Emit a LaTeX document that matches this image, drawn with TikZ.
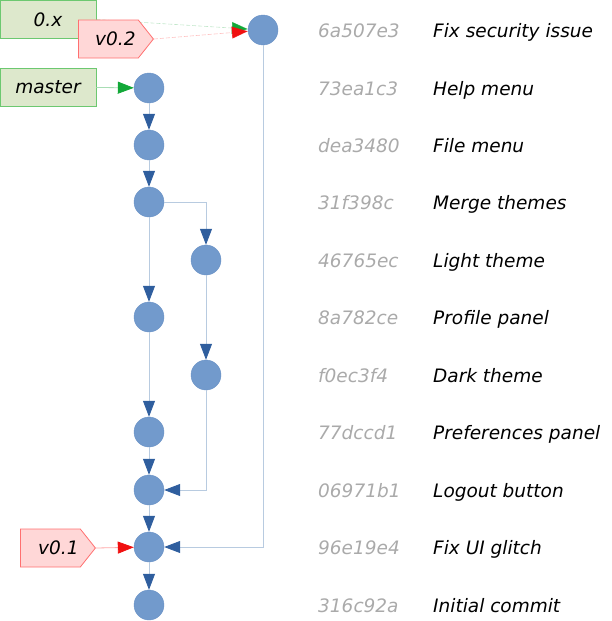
\documentclass[tikz,border=0pt]{standalone}
\usepackage{fontspec}
\setmainfont{DejaVu Sans}
\usetikzlibrary{arrows.meta,shapes.symbols}
\definecolor{commitfill}{HTML}{729ACC}
\definecolor{commitedge}{HTML}{6A92C6}
\definecolor{tipblue}{HTML}{2F5E9E}
\definecolor{linkline}{HTML}{B8CBE0}
\definecolor{hashgray}{HTML}{AAAAAA}
\definecolor{branchfill}{HTML}{DDE8CC}
\definecolor{branchedge}{HTML}{6CC870}
\definecolor{branchline}{HTML}{A8DDB4}
\definecolor{branchtip}{HTML}{12A838}
\definecolor{tagfill}{HTML}{FFD7D7}
\definecolor{tagedge}{HTML}{FF7070}
\definecolor{tagline}{HTML}{FFA8A8}
\definecolor{tagtip}{HTML}{F01010}
\begin{document}
\begin{tikzpicture}[x=1pt,y=-1pt,
  commit/.style={circle,fill=commitfill,draw=commitedge,line width=0.4pt,minimum size=30pt,inner sep=0pt},
  link/.style={draw=linkline,line width=0.8pt,-{Triangle[length=16pt,width=12pt,color=tipblue]}},
  lbl/.style={font=\itshape\fontsize{18.5}{22}\selectfont},
  hash/.style={lbl,text=hashgray,anchor=base west,inner sep=0pt},
  msg/.style={lbl,text=black,anchor=base west,inner sep=0pt},
  branch/.style={lbl,rectangle,fill=branchfill,draw=branchedge,line width=0.8pt,minimum width=96pt,minimum height=38pt,inner sep=0pt},
  tag/.style={lbl,signal,signal to=east,signal pointer angle=103,fill=tagfill,draw=tagedge,line width=0.8pt,minimum width=75pt,minimum height=38pt,inner sep=0pt},
  branchlink/.style={draw=branchline,line width=0.8pt,-{Triangle[length=16pt,width=12pt,color=branchtip]}},
  taglink/.style={draw=tagline,line width=0.8pt,-{Triangle[length=16pt,width=12pt,color=tagtip]}},
  faint/.style={dash pattern=on 4pt off 2pt,line width=0.6pt,draw opacity=0.7}]
\useasboundingbox (0,0) rectangle (612,621);

% commits
\node[commit] (sec)     at (263,30)  {};
\node[commit] (help)    at (149,88)  {};
\node[commit] (file)    at (149,145) {};
\node[commit] (merge)   at (149,202) {};
\node[commit] (light)   at (206,260) {};
\node[commit] (profile) at (149,317) {};
\node[commit] (dark)    at (206,375) {};
\node[commit] (prefs)   at (149,432) {};
\node[commit] (logout)  at (149,490) {};
\node[commit] (fixui)   at (149,547) {};
\node[commit] (init)    at (149,605) {};

% history links
\draw[link] (help) -- (file);
\draw[link] (file) -- (merge);
\draw[link] (merge) -- (profile);
\draw[link] (merge) -| (light);
\draw[link] (light) -- (dark);
\draw[link] (profile) -- (prefs);
\draw[link] (prefs) -- (logout);
\draw[link] (dark) |- (logout);
\draw[link] (logout) -- (fixui);
\draw[link] (fixui) -- (init);
\draw[link] (sec) |- (fixui);

% branches and tags
\node[branch] (zerox) at (48,19.5) {0.x};
\draw[branchlink,faint] (zerox.east) -- (sec);
\node[tag,anchor=west] (v02) at (78,39) {\hspace*{14pt}v0.2};
\draw[taglink,faint] (v02.east) -- (sec);
\node[branch] (master) at (48,87) {master};
\draw[branchlink] (master) -- (help);
\node[tag,anchor=west] (v01) at (20,548) {\hspace*{16pt}v0.1};
\draw[taglink] (v01.east) -- (fixui);

% hashes and messages
\foreach \y/\h/\m in {30/6a507e3/Fix security issue, 88/73ea1c3/Help menu, 145/dea3480/File menu,
  202/31f398c/Merge themes, 260/46765ec/Light theme, 317/8a782ce/Profile panel,
  375/f0ec3f4/Dark theme, 432/77dccd1/Preferences panel, 490/06971b1/Logout button,
  547/96e19e4/Fix UI glitch, 605/316c92a/Initial commit}{
  \node[hash] at (318,\y+7) {\h};
  \node[msg] at (433,\y+7) {\m};
}
\end{tikzpicture}
\end{document}
